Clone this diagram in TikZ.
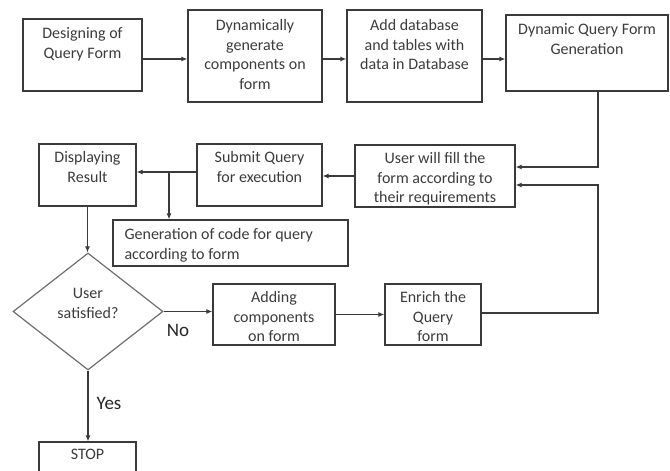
\documentclass[tikz,border=0pt]{standalone}
\usepackage{fontspec}
\setmainfont{Carlito}
\usetikzlibrary{shapes.geometric,arrows.meta}
\definecolor{ln}{HTML}{3A3A3A}
\definecolor{tx}{HTML}{3C3C3C}
\definecolor{dm}{HTML}{6E6E6E}
\begin{document}
\begin{tikzpicture}[x=1pt,y=-1pt,
  box/.style={draw=ln,line width=1.3pt,inner sep=0pt,fill=white},
  dia/.style={diamond,draw=dm,line width=1.2pt,inner sep=0pt},
  txt/.style={text=tx,inner sep=0pt,align=center,font=\fontsize{16}{19.5}\selectfont},
  lbl/.style={text=black!85,inner sep=0pt,font=\fontsize{19}{22}\selectfont},
  arr/.style={draw=ln,line width=1.1pt,-{Latex[length=6pt,width=5pt]}},
  ln/.style={draw=ln,line width=1.1pt}]
\useasboundingbox (0,0) rectangle (670,471);
\clip (0,0) rectangle (670,471);
% boxes
\node[box,minimum width=119pt,minimum height=72pt] (b1) at (82.5,55) {};
\node[box,minimum width=134pt,minimum height=92pt] (b2) at (255,56) {};
\node[box,minimum width=135pt,minimum height=92pt] (b3) at (414.5,56) {};
\node[box,minimum width=162pt,minimum height=76pt] (b4) at (587,53) {};
\node[box,minimum width=160pt,minimum height=62pt] (user) at (435,176) {};
\node[box,minimum width=125pt,minimum height=62pt] (submit) at (259.5,175) {};
\node[box,minimum width=97pt,minimum height=62pt] (disp) at (87.5,175) {};
\node[box,minimum width=235pt,minimum height=46pt] (gen) at (230.5,243) {};
\node[dia,minimum width=150pt,minimum height=117pt] (dec) at (88,311.5) {};
\node[box,minimum width=122pt,minimum height=61pt] (add) at (274,314.5) {};
\node[box,minimum width=96pt,minimum height=61pt] (enrich) at (433,314.5) {};
\node[box,minimum width=97pt,minimum height=38pt] (stop) at (87.5,461) {};
% texts
\node[txt,anchor=north] (t1) at ([yshift=-9pt]b1.north) {Designing of\\Query Form};
\node[txt,anchor=north] (t2) at ([yshift=-10pt]b2.north) {Dynamically\\generate\\components on\\form};
\node[txt,anchor=north] (t3) at ([yshift=-10pt]b3.north) {Add database\\and tables with\\data in Database};
\node[txt,anchor=north] (t4) at ([yshift=-9pt]b4.north) {Dynamic Query Form\\Generation};
\node[txt,anchor=north] (tu) at ([yshift=-8pt]user.north) {User will fill the\\form according to\\their requirements};
\node[txt,anchor=north] (ts) at ([yshift=-8pt]submit.north) {Submit Query\\for execution};
\node[txt,anchor=north] (td) at ([yshift=-8pt]disp.north) {Displaying\\Result};
\node[txt,anchor=north west,align=left] (tg) at ([xshift=12pt,yshift=-9pt]gen.north west) {Generation of code for query\\according to form};
\node[txt] (tdec) at ([yshift=8pt]dec.center) {User\\satisfied?};
\node[txt,anchor=north] (ta) at ([yshift=-8pt]add.north) {Adding\\components\\on form};
\node[txt,anchor=north] (te) at ([yshift=-8pt]enrich.north) {Enrich the\\Query\\form};
\node[txt,anchor=north] (tst) at ([yshift=-8pt]stop.north) {STOP};
\node[lbl] (no) at (178,330) {No};
\node[lbl] (yes) at (109,403) {Yes};
% connectors
\draw[arr] ([yshift=-4pt]b1.east) -- ([yshift=-4pt]b1.east -| b2.west);
\draw[arr] ([yshift=-3pt]b2.east) -- ([yshift=-3pt]b2.east -| b3.west);
\draw[arr] ([yshift=-3pt]b3.east) -- ([yshift=-3pt]b3.east -| b4.west);
\draw[arr] ([xshift=11pt]b4.south) |- ([yshift=9pt]user.east);
\coordinate (rt) at (598,185);
\draw[arr] ([yshift=1.5pt]enrich.east) -| (rt) -- (rt -| user.east);
\draw[arr] (user.west) -- (user.west -| submit.east);
\draw[arr] ([yshift=3pt]submit.west) -- ([yshift=3pt]submit.west -| disp.east);
\coordinate (br) at (169,172);
\draw[arr] (br) -- (br |- gen.north);
\draw[arr] (disp.south) -- (disp.south |- dec.north);
\draw[arr] (dec.east) -- (dec.east -| add.west);
\draw[arr] (add.east) -- (add.east -| enrich.west);
\draw[arr] (dec.south) -- (dec.south |- stop.north);
\end{tikzpicture}
\end{document}
